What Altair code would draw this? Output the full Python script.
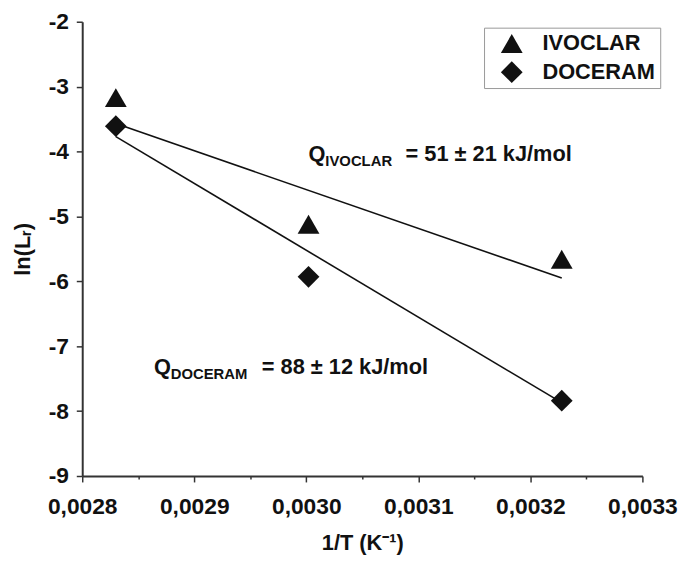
import altair as alt
import pandas as pd

# ---- data ----
series = ["IVOCLAR", "DOCERAM"]
inv_T = [0.00283, 0.003002, 0.003228]
ln_ivoclar = [-3.17, -5.12, -5.66]
ln_doceram = [-3.61, -5.93, -7.84]

fit_x = [0.00283, 0.003228]
fit_ivoclar = [-3.57, -5.95]
fit_doceram = [-3.77, -7.87]

x_ticks = [0.0028, 0.00285, 0.0029, 0.00295, 0.0030, 0.00305,
           0.0031, 0.00315, 0.0032, 0.00325, 0.0033]
y_ticks = [-9, -8.5, -8, -7.5, -7, -6.5, -6, -5.5, -5, -4.5, -4,
           -3.5, -3, -2.5, -2]

ann_sub = ["IVOCLAR", "DOCERAM"]
ann_value = ["= 51 ± 21 kJ/mol", "= 88 ± 12 kJ/mol"]
ann_x = [0.003002, 0.002864]
ann_y = [-4.15, -7.43]

FONT = "Liberation Sans"
INK = "#111111"
AX = "#333333"

pts = pd.DataFrame({
    "x": inv_T * 2,
    "y": ln_ivoclar + ln_doceram,
    "series": [series[0]] * 3 + [series[1]] * 3,
})
fits = pd.DataFrame({
    "x": fit_x * 2,
    "y": fit_ivoclar + fit_doceram,
    "series": [series[0]] * 2 + [series[1]] * 2,
})
ann = pd.DataFrame({"x": ann_x, "y": ann_y, "sub": ann_sub,
                    "value": ann_value, "q": ["Q", "Q"]})

x_major = "round(datum.value*1e5) % 10 === 0"
y_major = "datum.value % 1 === 0"

x_scale = alt.Scale(domain=[0.0028, 0.0033], nice=False, zero=False)
y_scale = alt.Scale(domain=[-9, -2], nice=False, zero=False)

x_axis = alt.Axis(
    values=x_ticks, title="1/T (K⁻¹)", grid=False, labelOverlap=False,
    labelFlush=False, labelBound=False,
    labelExpr=f"{x_major} ? replace(format(datum.value, '.4f'), '.', ',') : ''",
    tickSize={"condition": {"test": x_major, "value": 6}, "value": 3},
    labelPadding=14, titlePadding=14,
)
y_axis = alt.Axis(
    values=y_ticks, title="ln(Lᵣ)", grid=False, labelOverlap=False,
    labelFlush=False, labelBound=False,
    labelExpr=f"{y_major} ? ('' + datum.value) : ''",
    tickSize={"condition": {"test": y_major, "value": 6}, "value": 3},
    labelPadding=8, titlePadding=14,
)

X = alt.X("x:Q", scale=x_scale, axis=x_axis)
Y = alt.Y("y:Q", scale=y_scale, axis=y_axis)

lines = alt.Chart(fits).mark_line(color=INK, strokeWidth=1.6).encode(
    x=X, y=Y, detail="series:N")

points = alt.Chart(pts).mark_point(filled=True, size=484, opacity=1,
                                   color=INK).encode(
    x=X, y=Y,
    shape=alt.Shape("series:N",
                    scale=alt.Scale(domain=series,
                                    range=["triangle-up", "diamond"]),
                    legend=alt.Legend(
                        orient="none", legendX=406, legendY=6, title=None,
                        strokeColor="#999999", padding=5, symbolSize=484,
                        symbolOffset=12, labelOffset=20, rowPadding=7,
                        labelFont=FONT, labelFontSize=22,
                        labelFontWeight="bold", labelColor=INK,
                        symbolFillColor=INK, symbolStrokeWidth=0)),
)

layers = [lines, points]
rest_dx = [98, 109]
for i in range(2):
    d = ann.iloc[[i]]
    base = alt.Chart(d).encode(
        x=alt.X("x:Q", scale=x_scale), y=alt.Y("y:Q", scale=y_scale))
    layers.append(base.mark_text(align="left", baseline="alphabetic",
                                 font=FONT, fontSize=22, fontWeight="bold",
                                 color=INK).encode(text="q:N"))
    layers.append(base.mark_text(align="left", baseline="alphabetic",
                                 font=FONT, fontSize=15, fontWeight="bold",
                                 color=INK, dx=17, dy=5).encode(text="sub:N"))
    layers.append(base.mark_text(align="left", baseline="alphabetic",
                                 font=FONT, fontSize=22, fontWeight="bold",
                                 color=INK, dx=rest_dx[i]).encode(text="value:N"))

chart = alt.layer(*layers).properties(
    width=566, height=459,
    padding={"left": 3, "top": 0, "right": 3, "bottom": 5},
).configure_view(stroke=None).configure_axis(
    labelFont=FONT, labelFontSize=23, labelFontWeight="bold", labelColor=INK,
    titleFont=FONT, titleFontSize=22, titleFontWeight="bold", titleColor=INK,
    domainColor=AX, domainWidth=2, tickColor=AX, tickWidth=1.5,
)

chart.save("out.html", embed_options={"renderer": "svg", "actions": False})
